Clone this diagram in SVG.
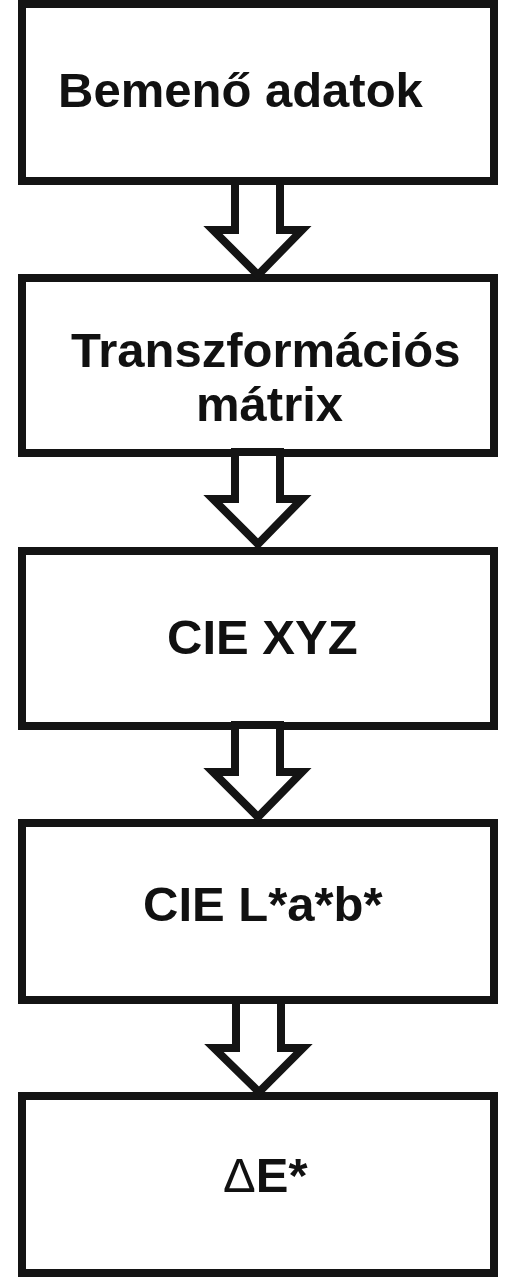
<svg xmlns="http://www.w3.org/2000/svg" width="510" height="1278" viewBox="0 0 510 1278">
<style>
.box{fill:#fff;stroke:#141414;stroke-width:8}
.arr{fill:#fff;stroke:#141414;stroke-width:8;stroke-linejoin:miter;stroke-miterlimit:4}
.t{font-family:"Liberation Sans",Arial,sans-serif;font-weight:bold;font-size:49px;fill:#111}
.d{font-weight:normal}
</style>
<rect width="510" height="1278" fill="#fff"/>
<g id="n1"><rect class="box" x="22" y="4" width="472" height="177"/><text class="t" x="58" y="107">Bemenő adatok</text></g>
<g id="n2"><rect class="box" x="22" y="278" width="472" height="175"/><text class="t" x="71" y="367">Transzformációs</text><text class="t" x="196" y="421">mátrix</text></g>
<g id="n3"><rect class="box" x="22" y="551" width="472" height="175"/><text class="t" x="167" y="654">CIE XYZ</text></g>
<g id="n4"><rect class="box" x="22" y="823" width="472" height="177"/><text class="t" x="143" y="921">CIE L*a*b*</text></g>
<g id="n5"><rect class="box" x="22" y="1096" width="472" height="177"/><text class="t" x="223" y="1192"><tspan class="d">Δ</tspan>E*</text></g>
<g id="connectors">
<polygon class="arr" points="235,181 235,230 213,230 258,275 302,230 280,230 280,181"/>
<polygon class="arr" points="235,452 235,499 213,499 258,544 302,499 280,499 280,452"/>
<polygon class="arr" points="235,725 235,772 213,772 258,817 302,772 280,772 280,725"/>
<polygon class="arr" points="236,1000 236,1048 214,1048 259,1092 303,1048 281,1048 281,1000"/>
</g>
</svg>
